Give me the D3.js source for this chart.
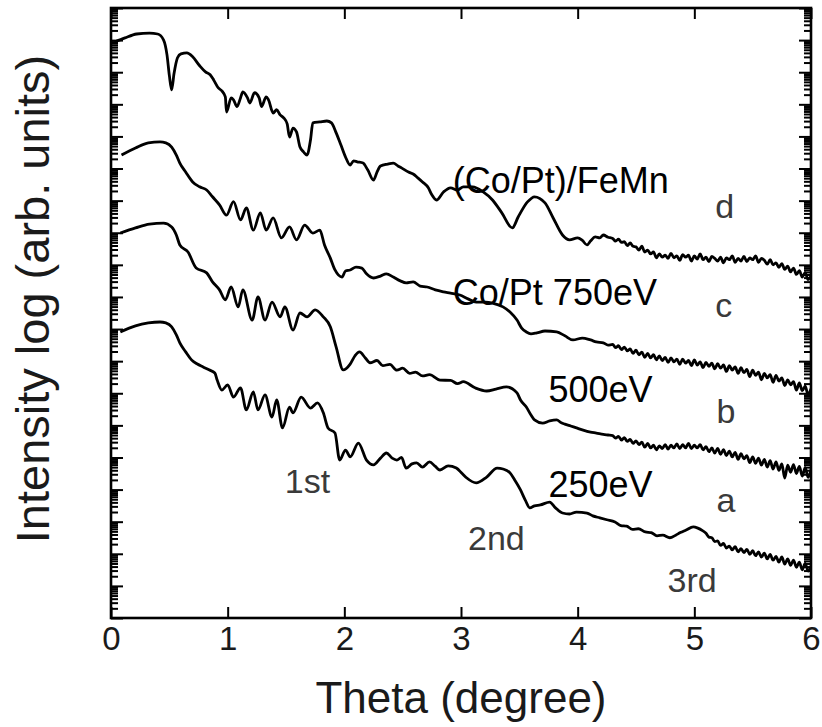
<!DOCTYPE html>
<html><head><meta charset="utf-8">
<script src="https://cdn.jsdelivr.net/npm/d3@7"></script>
<style>
html,body{margin:0;padding:0;background:#fff;}
svg{display:block;font-family:"Liberation Sans",Arial,Helvetica,sans-serif;}
</style></head><body>
<svg id="chart" width="822" height="727"></svg>
<script>
// X-ray reflectivity curves: [theta (deg), log10 intensity (offset, arb. units)]
const curveD = [
  [0.03,17.94],[0.12,18.07],[0.22,18.19],[0.33,18.22],[0.40,18.19],[0.45,18.01],[0.48,17.54],[0.50,16.90],[0.52,16.45],[0.54,16.95],
  [0.57,17.45],[0.60,17.57],[0.65,17.60],[0.70,17.48],[0.76,17.20],[0.81,17.01],[0.85,16.92],[0.88,16.76],[0.92,16.51],[0.95,16.42],
  [0.98,16.23],[0.99,15.76],[1.03,16.20],[1.05,16.14],[1.08,15.93],[1.11,16.20],[1.13,16.39],[1.17,16.20],[1.19,16.04],[1.23,16.36],
  [1.27,16.20],[1.29,15.93],[1.33,16.23],[1.35,16.14],[1.39,15.73],[1.42,15.83],[1.45,15.67],[1.48,15.58],[1.51,15.39],[1.53,14.98],
  [1.56,15.26],[1.59,15.14],[1.62,14.67],[1.65,14.52],[1.68,14.42],[1.71,14.89],[1.73,15.42],[1.79,15.45],[1.85,15.48],[1.89,15.42],
  [1.93,15.11],[1.97,14.74],[2.01,14.36],[2.05,14.11],[2.08,14.24],[2.11,14.21],[2.16,14.17],[2.20,13.96],[2.25,13.64],[2.28,13.89],
  [2.31,14.08],[2.37,14.14],[2.42,14.17],[2.46,14.08],[2.49,14.02],[2.55,13.89],[2.59,13.83],[2.63,13.71],[2.67,13.58],[2.72,13.40],
  [2.75,13.18],[2.79,13.02],[2.85,13.27],[2.91,13.40],[2.97,13.33],[3.02,13.43],[3.10,13.43],[3.19,13.27],[3.27,13.02],[3.35,12.62],
  [3.44,12.15],[3.49,12.49],[3.57,12.96],[3.63,13.12],[3.72,12.93],[3.79,12.46],[3.87,11.93],[3.93,11.78],[4.00,11.84],[4.04,11.76],
  [4.08,11.62],[4.11,11.74],[4.15,11.87],[4.19,11.84],[4.22,11.93],[4.26,11.86],
  [4.300,11.82],[4.325,11.74],[4.350,11.80],[4.375,11.70],[4.400,11.72],[4.425,11.60],[4.450,11.68],[4.475,11.58],[4.500,11.56],[4.525,11.46],
  [4.550,11.58],[4.575,11.40],[4.600,11.46],[4.625,11.34],[4.650,11.40],[4.675,11.22],[4.700,11.34],[4.725,11.24],[4.750,11.30],[4.775,11.20],
  [4.800,11.36],[4.825,11.22],[4.850,11.28],[4.875,11.14],[4.900,11.32],[4.925,11.24],[4.950,11.30],[4.975,11.12],[5.000,11.28],[5.025,11.18],
  [5.050,11.34],[5.075,11.16],[5.100,11.24],[5.125,11.10],[5.150,11.26],[5.175,11.20],[5.200,11.12],[5.225,11.24],[5.250,11.06],[5.275,11.22],
  [5.300,11.16],[5.325,11.28],[5.350,11.08],[5.375,11.20],[5.400,11.12],[5.425,11.26],[5.450,11.10],[5.475,11.22],[5.500,11.16],[5.525,11.28],
  [5.550,11.08],[5.575,11.20],[5.600,11.14],[5.625,11.02],[5.650,11.16],[5.675,11.00],[5.700,11.06],[5.725,10.92],[5.750,11.04],[5.775,10.86],
  [5.800,10.96],[5.825,10.78],[5.850,10.90],[5.875,10.70],[5.900,10.82],[5.925,10.62],[5.950,10.76],[5.975,10.54],[6.000,10.66]
];
const curveC = [
  [0.09,14.42],[0.21,14.64],[0.32,14.80],[0.42,14.83],[0.47,14.80],[0.52,14.67],[0.56,14.42],[0.59,14.17],[0.64,13.89],[0.70,13.58],
  [0.76,13.43],[0.82,13.33],[0.87,13.12],[0.93,12.87],[0.99,12.55],[1.05,12.97],[1.11,12.40],[1.16,12.77],[1.22,12.08],[1.28,12.62],
  [1.33,12.08],[1.39,12.46],[1.46,11.84],[1.53,12.18],[1.59,11.78],[1.66,12.24],[1.73,11.99],[1.79,12.08],[1.83,11.62],[1.88,11.21],
  [1.92,10.84],[1.98,10.62],[2.01,10.81],[2.05,10.84],[2.10,10.93],[2.15,10.90],[2.19,10.72],[2.25,10.59],[2.31,10.65],[2.36,10.72],
  [2.42,10.62],[2.48,10.50],[2.53,10.44],[2.59,10.47],[2.65,10.34],[2.71,10.31],[2.78,10.22],[2.85,10.16],[2.91,10.12],[2.99,10.06],
  [3.06,9.94],[3.13,9.84],[3.21,9.84],[3.27,9.81],[3.36,9.69],[3.42,9.53],[3.48,9.28],[3.52,9.03],[3.56,8.91],[3.60,8.85],
  [3.65,8.88],[3.72,8.94],[3.82,8.91],[3.89,8.79],[3.96,8.66],[4.04,8.72],[4.11,8.66],[4.16,8.60],[4.22,8.57],[4.26,8.50],
  [4.300,8.52],[4.325,8.42],[4.350,8.48],[4.375,8.36],[4.400,8.44],[4.425,8.32],[4.450,8.38],[4.475,8.24],[4.500,8.34],[4.525,8.20],
  [4.550,8.28],[4.575,8.12],[4.600,8.24],[4.625,8.10],[4.650,8.20],[4.675,8.04],[4.700,8.16],[4.725,8.02],[4.750,8.12],[4.775,7.96],
  [4.800,8.10],[4.825,7.98],[4.850,8.06],[4.875,7.90],[4.900,8.06],[4.925,7.94],[4.950,8.02],[4.975,7.86],[5.000,8.04],[5.025,7.88],
  [5.050,7.98],[5.075,7.80],[5.100,7.96],[5.125,7.84],[5.150,7.94],[5.175,7.76],[5.200,7.92],[5.225,7.78],[5.250,7.88],[5.275,7.68],
  [5.300,7.86],[5.325,7.72],[5.350,7.82],[5.375,7.62],[5.400,7.80],[5.425,7.64],[5.450,7.74],[5.475,7.52],[5.500,7.72],[5.525,7.56],
  [5.550,7.66],[5.575,7.42],[5.600,7.62],[5.625,7.48],[5.650,7.58],[5.675,7.34],[5.700,7.56],[5.725,7.38],[5.750,7.48],[5.775,7.24],
  [5.800,7.42],[5.825,7.26],[5.850,7.36],[5.875,7.10],[5.900,7.32],[5.925,7.08],[5.950,7.22],[5.975,6.96],[6.000,7.14]
];
const curveB = [
  [0.08,11.99],[0.21,12.15],[0.33,12.27],[0.45,12.30],[0.52,12.18],[0.56,11.93],[0.59,11.62],[0.66,11.40],[0.73,10.90],[0.82,10.75],
  [0.87,10.47],[0.93,10.22],[0.98,9.91],[1.03,10.31],[1.09,9.69],[1.13,10.22],[1.21,9.28],[1.26,10.00],[1.32,9.28],[1.38,9.84],
  [1.45,9.38],[1.49,9.69],[1.56,8.97],[1.62,9.50],[1.68,9.38],[1.75,9.60],[1.82,9.38],[1.88,9.07],[1.93,8.44],[1.99,7.73],
  [2.05,7.91],[2.09,8.16],[2.13,8.29],[2.18,8.10],[2.22,7.95],[2.28,8.02],[2.33,7.86],[2.39,7.90],[2.45,7.72],[2.50,7.78],
  [2.56,7.62],[2.61,7.66],[2.67,7.54],[2.73,7.58],[2.82,7.41],[2.91,7.40],[2.97,7.30],[3.02,7.36],[3.12,7.17],[3.22,7.07],
  [3.30,7.13],[3.39,7.20],[3.48,7.01],[3.51,6.79],[3.56,6.57],[3.60,6.32],[3.63,6.17],[3.70,6.07],[3.76,6.14],[3.82,6.17],
  [3.86,6.08],[3.89,6.04],[3.94,5.98],[3.99,5.92],[4.04,5.86],[4.11,5.79],[4.16,5.76],[4.22,5.72],[4.26,5.70],
  [4.300,5.68],[4.325,5.60],[4.350,5.66],[4.375,5.54],[4.400,5.62],[4.425,5.50],[4.450,5.56],[4.475,5.44],[4.500,5.52],[4.525,5.40],
  [4.550,5.48],[4.575,5.32],[4.600,5.44],[4.625,5.30],[4.650,5.38],[4.675,5.24],[4.700,5.36],[4.725,5.28],[4.750,5.40],[4.775,5.26],
  [4.800,5.38],[4.825,5.30],[4.850,5.42],[4.875,5.28],[4.900,5.40],[4.925,5.30],[4.950,5.44],[4.975,5.28],[5.000,5.38],[5.025,5.30],
  [5.050,5.40],[5.075,5.24],[5.100,5.34],[5.125,5.18],[5.150,5.30],[5.175,5.14],[5.200,5.28],[5.225,5.10],[5.250,5.24],[5.275,5.06],
  [5.300,5.20],[5.325,5.02],[5.350,5.16],[5.375,4.94],[5.400,5.12],[5.425,4.96],[5.450,5.06],[5.475,4.84],[5.500,5.02],[5.525,4.82],
  [5.550,4.98],[5.575,4.76],[5.600,4.94],[5.625,4.70],[5.650,4.90],[5.675,4.64],[5.700,4.86],[5.725,4.60],[5.750,4.80],[5.775,4.36],
  [5.800,4.76],[5.825,4.54],[5.850,4.78],[5.875,4.50],[5.900,4.72],[5.925,4.42],[5.950,4.68],[5.975,4.38],[6.000,4.62]
];
const curveA = [
  [0.08,8.91],[0.21,9.10],[0.32,9.19],[0.42,9.22],[0.47,9.19],[0.52,9.07],[0.56,8.82],[0.59,8.57],[0.64,8.29],[0.69,8.04],
  [0.74,7.91],[0.79,7.82],[0.84,7.73],[0.89,7.63],[0.91,7.41],[0.95,7.10],[1.00,7.26],[1.05,6.88],[1.11,7.17],[1.16,6.48],
  [1.22,7.04],[1.26,6.48],[1.32,6.95],[1.38,6.26],[1.42,6.79],[1.47,5.92],[1.53,6.57],[1.56,6.39],[1.63,6.88],[1.71,6.54],
  [1.77,6.70],[1.82,6.39],[1.86,5.92],[1.92,5.76],[1.96,4.92],[2.01,5.23],[2.05,5.02],[2.12,5.45],[2.19,4.92],[2.25,4.77],
  [2.31,4.98],[2.36,5.14],[2.41,4.98],[2.45,4.92],[2.49,5.00],[2.53,4.67],[2.58,4.80],[2.62,4.83],[2.67,4.70],[2.73,4.86],
  [2.78,4.72],[2.82,4.61],[2.89,4.74],[2.96,4.67],[3.01,4.50],[3.05,4.36],[3.13,4.21],[3.22,4.39],[3.31,4.67],[3.36,4.64],
  [3.42,4.52],[3.46,4.30],[3.51,3.99],[3.55,3.68],[3.59,3.43],[3.63,3.49],[3.68,3.52],[3.76,3.61],[3.81,3.43],[3.87,3.27],
  [3.93,3.24],[3.99,3.30],[4.08,3.27],[4.13,3.18],[4.19,3.12],[4.25,3.06],[4.32,2.99],[4.37,2.88],[4.42,2.86],[4.47,2.76],
  [4.52,2.78],[4.58,2.68],[4.63,2.66],[4.68,2.56],[4.73,2.58],[4.79,2.50],[4.84,2.58],[4.88,2.66],[4.93,2.74],[4.99,2.84],
  [5.03,2.80],[5.07,2.72],
  [5.100,2.64],[5.125,2.52],[5.150,2.50],[5.175,2.38],[5.200,2.40],[5.225,2.26],[5.250,2.32],[5.275,2.18],[5.300,2.24],[5.325,2.12],
  [5.350,2.22],[5.375,2.06],[5.400,2.16],[5.425,2.04],[5.450,2.14],[5.475,1.98],[5.500,2.10],[5.525,1.94],[5.550,2.06],[5.575,1.90],
  [5.600,2.02],[5.625,1.84],[5.650,1.98],[5.675,1.80],[5.700,1.92],[5.725,1.74],[5.750,1.90],[5.775,1.68],[5.800,1.84],[5.825,1.64],
  [5.850,1.80],[5.875,1.58],[5.900,1.74],[5.925,1.50],[5.950,1.70],[5.975,1.46],[6.000,1.62]
];

const xTickValues = [0, 1, 2, 3, 4, 5, 6];
const xTickLabels = ["0", "1", "2", "3", "4", "5", "6"];
const yDecades = d3.range(0, 20);           // log decades 10^0 … 10^19
const minorMultipliers = [2, 3, 4, 5, 6, 7, 8, 9];

// sample names and sputtering energies, anchored in data coordinates
const sampleLabels = [
  { text: "(Co/Pt)/FeMn", theta: 2.93, logI: 13.24 },
  { text: "Co/Pt 750eV",  theta: 2.93, logI: 9.75 },
  { text: "500eV",        theta: 3.75, logI: 6.73 },
  { text: "250eV",        theta: 3.75, logI: 3.77 }
];
const curveLetters = [
  { text: "d", theta: 5.18, logI: 12.46 },
  { text: "c", theta: 5.18, logI: 9.38 },
  { text: "b", theta: 5.19, logI: 6.07 },
  { text: "a", theta: 5.19, logI: 3.30 }
];
const braggOrders = [
  { text: "1st", theta: 1.49, logI: 3.89 },
  { text: "2nd", theta: 3.06, logI: 2.12 },
  { text: "3rd", theta: 4.77, logI: 0.81 }
];

const svg = d3.select("#chart");
const x = d3.scaleLinear().domain([0, 6]).range([111, 811]);
const y = d3.scaleLinear().domain([0, 19]).range([618, 8]);

svg.append("defs").append("clipPath").attr("id", "plotClip")
  .append("rect").attr("x", x(0)).attr("y", y(19))
  .attr("width", x(6) - x(0)).attr("height", y(0) - y(19));

// curves
const line = d3.line().x(d => x(d[0])).y(d => y(d[1])).curve(d3.curveMonotoneX);
const curves = svg.append("g").attr("clip-path", "url(#plotClip)");
[curveA, curveB, curveC, curveD].forEach(c => {
  curves.append("path").datum(c).attr("d", line)
    .attr("fill", "none").attr("stroke", "#000")
    .attr("stroke-width", 2.8).attr("stroke-linejoin", "round");
});

// log-scale ticks (inward) on both vertical sides
const minorValues = [];
yDecades.slice(0, -1).forEach(k => minorMultipliers.forEach(m => minorValues.push(k + Math.log10(m))));

function styleAxis(g) {
  g.select(".domain").remove();
  g.selectAll(".tick line").attr("stroke", "#000").attr("stroke-width", 2);
}
svg.append("g").attr("transform", `translate(${x(0)},0)`)
  .call(d3.axisLeft(y).tickValues(yDecades).tickSize(-12).tickFormat("")).call(styleAxis);
svg.append("g").attr("transform", `translate(${x(0)},0)`)
  .call(d3.axisLeft(y).tickValues(minorValues).tickSize(-7).tickFormat("")).call(styleAxis);
svg.append("g").attr("transform", `translate(${x(6)},0)`)
  .call(d3.axisRight(y).tickValues(yDecades).tickSize(-12).tickFormat("")).call(styleAxis);
svg.append("g").attr("transform", `translate(${x(6)},0)`)
  .call(d3.axisRight(y).tickValues(minorValues).tickSize(-7).tickFormat("")).call(styleAxis);

// theta ticks, top and bottom
svg.append("g").attr("transform", `translate(0,${y(19)})`)
  .call(d3.axisTop(x).tickValues(xTickValues).tickSize(-11).tickFormat("")).call(styleAxis);
const xAxis = svg.append("g").attr("transform", `translate(0,${y(0)})`)
  .call(d3.axisBottom(x).tickValues(xTickValues).tickSize(-11).tickPadding(9)
    .tickFormat((d, i) => xTickLabels[i])).call(styleAxis);
xAxis.selectAll(".tick text").attr("font-size", 33).attr("fill", "#1a1a1a")
  .attr("font-family", '"Liberation Sans", Arial, sans-serif');

// frame
svg.append("rect").attr("x", x(0)).attr("y", y(19))
  .attr("width", x(6) - x(0)).attr("height", y(0) - y(19))
  .attr("fill", "none").attr("stroke", "#000").attr("stroke-width", 2.6);

// axis titles
svg.append("text").attr("x", (x(0) + x(6)) / 2).attr("y", 713)
  .attr("text-anchor", "middle").attr("font-size", 44).attr("fill", "#1a1a1a")
  .text("Theta (degree)");
svg.append("text").attr("transform", `translate(49,${(y(0) + y(19)) / 2 - 14}) rotate(-90)`)
  .attr("text-anchor", "middle").attr("font-size", 47).attr("fill", "#1a1a1a")
  .text("Intensity log (arb. units)");

// annotations
svg.append("g").selectAll("text").data(sampleLabels).join("text")
  .attr("x", d => x(d.theta)).attr("y", d => y(d.logI))
  .attr("font-size", 36).attr("fill", "#000").text(d => d.text);
svg.append("g").selectAll("text").data(curveLetters.concat(braggOrders)).join("text")
  .attr("x", d => x(d.theta)).attr("y", d => y(d.logI))
  .attr("font-size", 34).attr("fill", "#3a3a3a").text(d => d.text);
</script>
</body></html>
